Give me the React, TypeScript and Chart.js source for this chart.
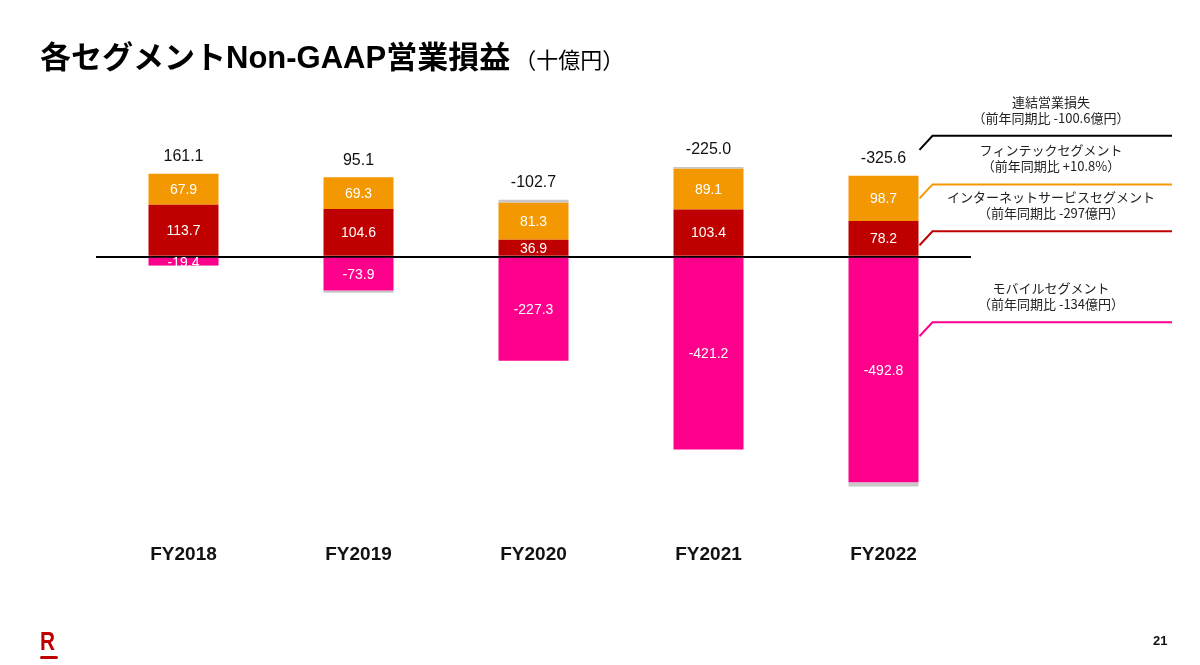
import React, { useEffect, useRef } from "react";
import { Chart, registerables } from "chart.js";

Chart.register(...registerables);

const categories = ["FY2018", "FY2019", "FY2020", "FY2021", "FY2022"];
const internetValues = [113.7, 104.6, 36.9, 103.4, 78.2];
const fintechValues = [67.9, 69.3, 81.3, 89.1, 98.7];
const mobileValues = [-19.4, -73.9, -227.3, -421.2, -492.8];
const otherValues = [-1.1, -4.9, 6.4, 3.7, -9.7];
const totalValues = [161.1, 95.1, -102.7, -225.0, -325.6];

const notes = [
  { title: "連結営業損失", sub: "（前年同期比 -100.6億円）", color: "#000000" },
  { title: "フィンテックセグメント", sub: "（前年同期比 +10.8%）", color: "#F39800" },
  { title: "インターネットサービスセグメント", sub: "（前年同期比 -297億円）", color: "#BF0000" },
  { title: "モバイルセグメント", sub: "（前年同期比 -134億円）", color: "#FF008C" },
];

const numFont = '"Liberation Sans", Arial, sans-serif';
const jpFont = '"Noto Sans CJK JP", sans-serif';

const fmt = (v: number) => v.toFixed(1);

// values inside the bars and totals above them
const labelPlugin = {
  id: "barLabels",
  afterDatasetsDraw(chart: any) {
    const ctx = chart.ctx;
    const y = chart.scales.y;
    ctx.save();
    ctx.textAlign = "center";
    ctx.textBaseline = "middle";
    ctx.fillStyle = "#ffffff";
    ctx.font = `14px ${numFont}`;
    [0, 1, 2].forEach((di) => {
      const meta = chart.getDatasetMeta(di);
      meta.data.forEach((el: any, i: number) => {
        const v = chart.data.datasets[di].data[i];
        ctx.fillText(fmt(v), el.x, (el.y + el.base) / 2 + 1);
      });
    });
    ctx.fillStyle = "#111111";
    ctx.font = `16px ${numFont}`;
    const meta0 = chart.getDatasetMeta(0);
    totalValues.forEach((t, i) => {
      let pos = 0;
      chart.data.datasets.forEach((ds: any) => {
        if (ds.data[i] > 0) pos += ds.data[i];
      });
      ctx.fillText(fmt(t), meta0.data[i].x, y.getPixelForValue(pos) - 17);
    });
    ctx.restore();
  },
};

// connector lines and segment notes on the right
const notePlugin = {
  id: "notes",
  afterDraw(chart: any) {
    const ctx = chart.ctx;
    const y = chart.scales.y;
    const last = categories.length - 1;
    const red = chart.getDatasetMeta(0).data[last];
    const orange = chart.getDatasetMeta(1).data[last];
    const pink = chart.getDatasetMeta(2).data[last];
    const right = red.x + red.width / 2;
    let pos = 0;
    chart.data.datasets.forEach((ds: any) => {
      if (ds.data[last] > 0) pos += ds.data[last];
    });
    const starts = [
      y.getPixelForValue(pos) - 26,
      (orange.y + orange.base) / 2,
      red.base - 0.3 * (red.base - red.y),
      pink.base + 0.35 * (pink.y - pink.base),
    ];
    ctx.save();
    notes.forEach((n, i) => {
      const sy = starts[i];
      const hy = sy - 14;
      ctx.strokeStyle = n.color;
      ctx.lineWidth = 2;
      ctx.beginPath();
      ctx.moveTo(right + 1, sy);
      ctx.lineTo(right + 14, hy);
      ctx.lineTo(1172, hy);
      ctx.stroke();
      ctx.fillStyle = "#222222";
      ctx.font = `13px ${jpFont}`;
      ctx.textAlign = "center";
      ctx.textBaseline = "middle";
      ctx.fillText(n.title, 1051, hy - 34);
      ctx.fillText(n.sub, 1051, hy - 18);
    });
    ctx.restore();
  },
};

const SegmentChart: React.FC = () => {
  const canvasRef = useRef<HTMLCanvasElement>(null);
  const chartRef = useRef<Chart>();

  useEffect(() => {
    if (!canvasRef.current) return;
    const ctx = canvasRef.current.getContext("2d");
    if (!ctx) return;
    if (chartRef.current) chartRef.current.destroy();
    chartRef.current = new Chart(ctx, {
      type: "bar",
      data: {
        labels: categories,
        datasets: [
          { label: "インターネットサービス", data: internetValues, backgroundColor: "#BF0000" },
          { label: "フィンテック", data: fintechValues, backgroundColor: "#F39800" },
          { label: "モバイル", data: mobileValues, backgroundColor: "#FF008C" },
          { label: "その他", data: otherValues, backgroundColor: "#C8C8C8" },
        ],
      },
      options: {
        animation: false,
        responsive: false,
        maintainAspectRatio: false,
        datasets: { bar: { barPercentage: 0.4, categoryPercentage: 1 } },
        layout: { padding: { left: 96, right: 229, top: 119.5, bottom: 87 } },
        plugins: { legend: { display: false }, tooltip: { enabled: false } },
        scales: {
          x: {
            stacked: true,
            grid: { display: false, drawTicks: false },
            border: { display: false },
            ticks: {
              padding: 12,
              color: "#111111",
              font: { family: numFont, size: 19, weight: "bold" },
            },
          },
          y: {
            stacked: true,
            min: -600,
            max: 300,
            z: 1,
            ticks: { display: false, stepSize: 100 },
            border: { display: false },
            grid: {
              drawTicks: false,
              color: (c: any) => (c.tick && c.tick.value === 0 ? "#000000" : "rgba(0,0,0,0)"),
              lineWidth: (c: any) => (c.tick && c.tick.value === 0 ? 2 : 0),
            },
          },
        },
      },
      plugins: [labelPlugin, notePlugin],
    });
    return () => {
      if (chartRef.current) {
        chartRef.current.destroy();
        chartRef.current = undefined;
      }
    };
  }, []);

  return <canvas ref={canvasRef} width={1200} height={665} style={{ position: "absolute", left: 0, top: 0 }} />;
};

const App: React.FC = () => {
  return (
    <div style={{ position: "absolute", left: 0, top: 0, width: 1200, height: 665, background: "#fff", overflow: "hidden" }}>
      <SegmentChart />
      <div
        style={{
          position: "absolute",
          left: 40,
          top: 39,
          lineHeight: 1,
          whiteSpace: "nowrap",
          color: "#000",
          fontFamily: `"Liberation Sans", "Noto Sans CJK JP", sans-serif`,
        }}
      >
        <span style={{ fontSize: 31, fontWeight: 700, fontFamily: `"Noto Sans CJK JP", sans-serif` }}>各セグメント</span>
        <span style={{ fontSize: 31, fontWeight: 700 }}>Non-GAAP</span>
        <span style={{ fontSize: 31, fontWeight: 700, fontFamily: `"Noto Sans CJK JP", sans-serif` }}>営業損益</span>
        <span style={{ fontSize: 22, fontFamily: `"Noto Sans CJK JP", sans-serif`, marginLeft: 4 }}>（十億円）</span>
      </div>
      <div
        style={{
          position: "absolute",
          left: 40,
          top: 628,
          fontFamily: `"Liberation Sans", sans-serif`,
          fontWeight: 700,
          fontSize: 26,
          lineHeight: 1,
          color: "#BF0000",
          transform: "scaleX(0.8)",
          transformOrigin: "left",
        }}
      >
        R
      </div>
      <div style={{ position: "absolute", left: 40, top: 656, width: 18, height: 3, background: "#BF0000", borderRadius: 2 }} />
      <div
        style={{
          position: "absolute",
          left: 1153,
          top: 633,
          fontFamily: `"Liberation Sans", sans-serif`,
          fontWeight: 700,
          fontSize: 13,
          color: "#111",
        }}
      >
        21
      </div>
    </div>
  );
};

export default App;
